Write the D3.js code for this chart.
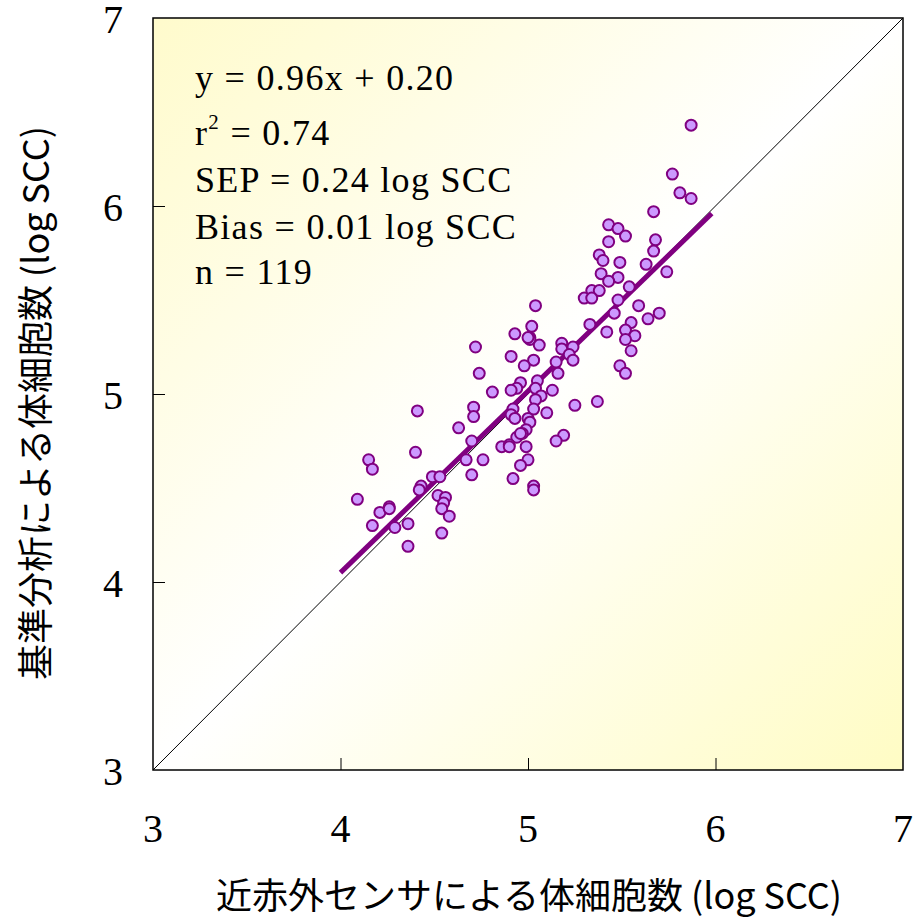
<!DOCTYPE html>
<html>
<head>
<meta charset="utf-8">
<script src="https://cdn.jsdelivr.net/npm/d3@7"></script>
<style>
  body { margin: 0; background: #fff; }
</style>
</head>
<body>
<div id="chart"></div>
<script>
// NIR sensor SCC (x) vs reference method SCC (y), log SCC
var xVals = [5.87, 5.77, 5.81, 5.87, 5.67, 5.43, 5.48, 5.52, 5.68, 5.43,
             5.67, 5.38, 5.40, 5.49, 5.63, 5.74, 5.39, 5.48, 5.43, 5.54,
             5.34, 5.38, 5.30, 5.34, 5.48, 5.04, 5.59, 5.46, 5.70, 5.64,
             5.55, 5.33, 5.02, 5.52, 5.42, 5.57, 4.93, 5.01, 5.01, 5.52,
             5.18, 5.06, 5.24, 5.18, 5.55, 4.72, 5.22, 4.91, 5.24, 5.03,
             4.98, 5.15, 5.49, 5.52, 5.16, 4.74, 5.05, 4.96, 4.94, 5.04,
             4.91, 4.81, 5.13, 5.07, 5.04, 5.37, 5.25, 4.41, 4.71, 5.03,
             4.92, 5.10, 4.71, 4.91, 4.93, 5.00, 5.01, 4.63, 4.99, 4.97,
             4.94, 5.19, 5.15, 4.70, 4.86, 4.90, 4.99, 4.40, 5.00, 4.76,
             4.67, 4.96, 4.15, 4.17, 4.70, 4.92, 4.49, 4.53, 4.43, 4.42,
             5.03, 5.03, 4.09, 4.52, 4.56, 4.55, 4.54, 4.58, 4.26, 4.21,
             4.17, 4.36, 4.29, 4.54, 4.36, 4.26, 4.90, 5.00, 4.96];
var yVals = [6.43, 6.17, 6.07, 6.04, 5.97, 5.90, 5.88, 5.84, 5.82, 5.81,
             5.76, 5.74, 5.71, 5.70, 5.69, 5.65, 5.64, 5.62, 5.60, 5.57,
             5.55, 5.55, 5.51, 5.51, 5.50, 5.47, 5.47, 5.43, 5.43, 5.40,
             5.38, 5.37, 5.36, 5.34, 5.33, 5.31, 5.32, 5.30, 5.29, 5.29,
             5.27, 5.26, 5.25, 5.24, 5.23, 5.25, 5.21, 5.20, 5.18, 5.18,
             5.15, 5.17, 5.15, 5.11, 5.11, 5.11, 5.07, 5.06, 5.03, 5.03,
             5.02, 5.01, 5.02, 4.99, 4.97, 4.96, 4.94, 4.91, 4.93, 4.92,
             4.92, 4.90, 4.88, 4.89, 4.87, 4.87, 4.85, 4.82, 4.81, 4.79,
             4.77, 4.78, 4.75, 4.75, 4.72, 4.73, 4.72, 4.69, 4.65, 4.65,
             4.65, 4.62, 4.65, 4.60, 4.57, 4.55, 4.56, 4.56, 4.51, 4.49,
             4.51, 4.49, 4.44, 4.46, 4.45, 4.42, 4.39, 4.35, 4.40, 4.37,
             4.30, 4.31, 4.29, 4.26, 4.19, 4.39, 4.72, 5.30, 4.79];

// regression line end points
var fitX = [4.00, 5.98];
var fitY = [4.05, 5.96];

var axisTicks = [3, 4, 5, 6, 7];
var statLines = ["y = 0.96x + 0.20", "r", "SEP = 0.24 log SCC", "Bias = 0.01 log SCC", "n = 119"];

var margin = {top: 18, right: 11, bottom: 152, left: 153},
    width = 914 - margin.left - margin.right,
    height = 922 - margin.top - margin.bottom;

var svg = d3.select("#chart")
  .append("svg")
  .attr("width", 914)
  .attr("height", 922);

var defs = svg.append("defs");
var grad = defs.append("linearGradient")
  .attr("id", "bg")
  .attr("x1", 0).attr("y1", 0).attr("x2", 1).attr("y2", 1);
grad.append("stop").attr("offset", "0%").attr("stop-color", "#fffbcc");
grad.append("stop").attr("offset", "50%").attr("stop-color", "#ffffff");
grad.append("stop").attr("offset", "100%").attr("stop-color", "#fffcc4");

var g = svg.append("g")
  .attr("transform", "translate(" + margin.left + "," + margin.top + ")");

var x = d3.scaleLinear().domain([3, 7]).range([0, width]);
var y = d3.scaleLinear().domain([3, 7]).range([height, 0]);

// plot background
g.append("rect")
  .attr("width", width)
  .attr("height", height)
  .attr("fill", "url(#bg)");

// 1:1 line
g.append("line")
  .attr("x1", x(3)).attr("y1", y(3))
  .attr("x2", x(7)).attr("y2", y(7))
  .attr("stroke", "#000")
  .attr("stroke-width", 1);

// inward ticks
g.append("g")
  .attr("transform", "translate(0," + height + ")")
  .call(d3.axisBottom(x).tickValues([4, 5, 6]).tickSizeInner(-12).tickSizeOuter(0).tickFormat(""))
  .call(function(a) { a.select(".domain").remove(); });
g.append("g")
  .call(d3.axisLeft(y).tickValues([4, 5, 6]).tickSizeInner(-12).tickSizeOuter(0).tickFormat(""))
  .call(function(a) { a.select(".domain").remove(); });

// tick labels
g.append("g").selectAll("text")
  .data(axisTicks)
  .enter().append("text")
  .attr("x", function(d) { return x(d); })
  .attr("y", height + 72)
  .attr("text-anchor", "middle")
  .style("font-family", "'Liberation Serif', serif")
  .style("font-size", "40px")
  .text(function(d) { return d; });
g.append("g").selectAll("text")
  .data(axisTicks)
  .enter().append("text")
  .attr("x", -40)
  .attr("y", function(d) { return y(d) + 15; })
  .attr("text-anchor", "middle")
  .style("font-family", "'Liberation Serif', serif")
  .style("font-size", "40px")
  .text(function(d) { return d; });

// regression line
g.append("line")
  .attr("x1", x(fitX[0])).attr("y1", y(fitY[0]))
  .attr("x2", x(fitX[1])).attr("y2", y(fitY[1]))
  .attr("stroke", "#800080")
  .attr("stroke-width", 5);

// points
g.append("g")
  .selectAll("circle")
  .data(xVals)
  .enter()
  .append("circle")
  .attr("cx", function(d) { return x(d); })
  .attr("cy", function(d, i) { return y(yVals[i]); })
  .attr("r", 5.5)
  .attr("fill", "#cc99ff")
  .attr("stroke", "#800080")
  .attr("stroke-width", 2);

// frame
g.append("rect")
  .attr("width", width)
  .attr("height", height)
  .attr("fill", "none")
  .attr("stroke", "#000")
  .attr("stroke-width", 1.5);

// statistics text
var baselines = [72, 127, 174, 221, 266];
var stats = g.append("g")
  .style("font-family", "'Liberation Serif', serif")
  .style("font-size", "36px")
  .style("letter-spacing", "1.3px");
statLines.forEach(function(s, i) {
  var t = stats.append("text").attr("x", 42).attr("y", baselines[i]);
  if (s === "r") {
    t.append("tspan").text("r");
    t.append("tspan").attr("dy", -16).style("font-size", "21px").text("2");
    t.append("tspan").attr("dy", 16).text(" = 0.74");
  } else {
    t.text(s);
  }
});

// axis titles
svg.append("text")
  .attr("x", 529)
  .attr("y", 893)
  .attr("text-anchor", "middle")
  .attr("dominant-baseline", "central")
  .style("font-family", "'Noto Sans CJK JP', sans-serif")
  .style("font-size", "36px")
  .text("近赤外センサによる体細胞数 (log SCC)");

svg.append("text")
  .attr("transform", "translate(33,403) rotate(-90)")
  .attr("text-anchor", "middle")
  .attr("dominant-baseline", "central")
  .style("font-family", "'Noto Sans CJK JP', sans-serif")
  .style("font-size", "36px")
  .text("基準分析による体細胞数 (log SCC)");
</script>
</body>
</html>
